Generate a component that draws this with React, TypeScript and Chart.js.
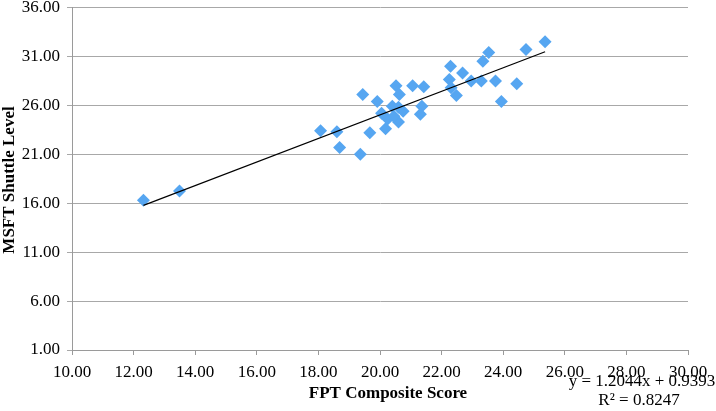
import React, { useEffect, useRef } from "react";
import { Chart, registerables } from "chart.js";

Chart.register(...registerables);

// FPT composite score (x) and MSFT shuttle level (y)
const fptScores = [
  12.32, 13.49, 18.07, 18.6, 18.69, 19.36, 19.44, 19.67, 19.91, 20.05,
  20.18, 20.25, 20.4, 20.52, 20.63, 20.6, 20.6, 20.45, 20.75, 21.06,
  21.42, 21.36, 21.31, 22.29, 22.25, 22.31, 22.48, 22.68, 22.96, 23.29,
  23.34, 23.53, 23.75, 23.94, 24.44, 24.74, 25.36,
];
const shuttleLevels = [
  16.3, 17.26, 23.4, 23.3, 21.7, 21.0, 27.1, 23.2, 26.4, 25.2,
  23.6, 24.6, 25.9, 28.0, 27.1, 25.8, 24.3, 24.9, 25.4, 28.0,
  27.9, 25.9, 25.1, 30.0, 28.65, 27.8, 27.0, 29.3, 28.5, 28.5,
  30.5, 31.4, 28.5, 26.4, 28.2, 31.7, 32.5,
];

const trendSlope = 1.2044;
const trendIntercept = 0.9393;
const equationLabel = "y = 1.2044x + 0.9393";
const r2Label = "R\u00B2 = 0.8247";
const xTitle = "FPT Composite Score";
const yTitle = "MSFT Shuttle Level";

const SERIF = '"Liberation Serif", "Times New Roman", serif';

export default function App() {
  const ref = useRef<HTMLCanvasElement>(null);

  useEffect(() => {
    document.body.style.margin = "0";
    const canvas = ref.current;
    if (!canvas) return;

    const points = fptScores.map((x, i) => ({ x, y: shuttleLevels[i] }));
    const xMin = Math.min(...fptScores);
    const xMax = Math.max(...fptScores);
    const trend = [
      { x: xMin, y: trendSlope * xMin + trendIntercept },
      { x: xMax, y: trendSlope * xMax + trendIntercept },
    ];

    const textPlugin = {
      id: "texts",
      afterDraw(chart: any) {
        const { ctx } = chart;
        ctx.save();
        ctx.fillStyle = "#000";
        ctx.textAlign = "center";
        ctx.textBaseline = "middle";
        ctx.font = `bold 17px ${SERIF}`;
        ctx.fillText(xTitle, 388, 394);
        ctx.save();
        ctx.translate(10, 180);
        ctx.rotate(-Math.PI / 2);
        ctx.fillText(yTitle, 0, 0);
        ctx.restore();
        ctx.font = `17px ${SERIF}`;
        ctx.fillText(equationLabel, 642, 382);
        ctx.fillText(r2Label, 639, 401);
        ctx.restore();
      },
    };

    const chart = new Chart(canvas, {
      type: "scatter",
      data: {
        datasets: [
          {
            type: "line",
            data: trend,
            borderColor: "#000",
            borderWidth: 1.2,
            pointRadius: 0,
            fill: false,
          } as any,
          {
            type: "scatter",
            data: points,
            pointStyle: "rectRot",
            pointRadius: 6.5,
            backgroundColor: "#56a6f1",
            borderColor: "#56a6f1",
            borderWidth: 0,
          },
        ],
      },
      options: {
        animation: false,
        responsive: false,
        maintainAspectRatio: false,
        layout: { padding: { top: 0, right: 28, left: 0, bottom: 0 } },
        plugins: {
          legend: { display: false },
          tooltip: { enabled: false },
        },
        scales: {
          x: {
            type: "linear",
            min: 10,
            max: 30,
            ticks: {
              stepSize: 2,
              color: "#000",
              font: { family: SERIF, size: 17 },
              padding: 7,
              callback: (v: any) => Number(v).toFixed(2),
            },
            grid: { display: true, drawOnChartArea: false, color: "#9a9a9a", tickLength: 5 },
            border: { display: true, color: "#9a9a9a", width: 1 },
            afterFit: (s: any) => {
              s.height = 61;
            },
          },
          y: {
            type: "linear",
            min: 1,
            max: 36,
            ticks: {
              stepSize: 5,
              color: "#000",
              font: { family: SERIF, size: 17, lineHeight: 0.06 },
              padding: 7,
              callback: (v: any) => Number(v).toFixed(2),
            },
            grid: { color: "#a8a8a8", lineWidth: 1, tickLength: 5 },
            border: { display: true, color: "#9a9a9a", width: 1 },
            afterFit: (s: any) => {
              s.width = 72;
            },
          },
        },
      },
      plugins: [textPlugin],
    });

    return () => chart.destroy();
  }, []);

  return (
    <div style={{ width: 716, height: 411 }}>
      <canvas ref={ref} width={716} height={411} style={{ display: "block" }} />
    </div>
  );
}
